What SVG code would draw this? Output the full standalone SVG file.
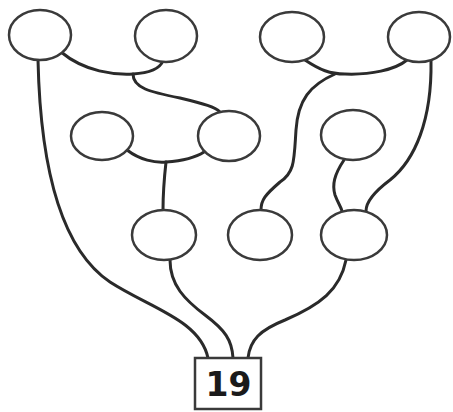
<svg xmlns="http://www.w3.org/2000/svg" width="453" height="412" viewBox="0 0 453 412">
<style>
.node{fill:#fff;stroke:#3a3a3a;stroke-width:2.5}
.edge{fill:none;stroke:#2a2a2a;stroke-width:3;stroke-linecap:round}
.box{fill:#fff;stroke:#3a3a3a;stroke-width:2.5}
.lbl{font-family:"DejaVu Sans",sans-serif;font-weight:bold;font-size:33px;fill:#1a1a1a;text-anchor:middle}
</style>
<rect width="453" height="412" fill="#fff"/>
<g id="connectors">
<path class="edge" d="M38,60 C40,150 55,245 110,282 C150,308 200,320 208,358"/>
<path class="edge" d="M61,52 C85,72 115,75 133,74 C150,73 160,68 163,61"/>
<path class="edge" d="M133,74 C133,88 150,92 180,98 C205,104 215,107 220,112"/>
<path class="edge" d="M127,150 C140,160 155,163 166,162 C180,161 195,158 204,152"/>
<path class="edge" d="M166,162 C164,180 163,195 163,210"/>
<path class="edge" d="M170,260 C170,285 185,300 205,315 C225,330 232,340 233,358"/>
<path class="edge" d="M346,260 C340,290 320,305 285,320 C260,330 250,340 248,358"/>
<path class="edge" d="M305,60 C320,70 330,74 345,74 C370,75 395,70 407,60"/>
<path class="edge" d="M335,74 C310,85 298,100 296,130 C294,160 295,172 280,182 C265,195 261,200 261,210"/>
<path class="edge" d="M431,61 C432,120 415,160 390,180 C370,195 366,205 366,211"/>
<path class="edge" d="M344,160 C334,175 332,185 335,195 C338,203 341,207 342,211"/>
</g>
<g id="n1"><ellipse class="node" cx="40" cy="35" rx="31" ry="25"/></g>
<g id="n2"><ellipse class="node" cx="166" cy="36" rx="31" ry="26"/></g>
<g id="n3"><ellipse class="node" cx="292" cy="37" rx="32" ry="25"/></g>
<g id="n4"><ellipse class="node" cx="419" cy="37" rx="31" ry="25"/></g>
<g id="n5"><ellipse class="node" cx="102" cy="136" rx="31" ry="24"/></g>
<g id="n6"><ellipse class="node" cx="229" cy="136" rx="31" ry="25"/></g>
<g id="n7"><ellipse class="node" cx="353" cy="135" rx="32" ry="25"/></g>
<g id="n8"><ellipse class="node" cx="164" cy="235" rx="32" ry="25"/></g>
<g id="n9"><ellipse class="node" cx="260" cy="235" rx="32" ry="25"/></g>
<g id="n10"><ellipse class="node" cx="354" cy="235" rx="33" ry="25"/></g>
<g id="result"><rect class="box" x="195" y="358" width="66" height="51"/><text class="lbl" x="228.5" y="396">19</text></g>
</svg>
